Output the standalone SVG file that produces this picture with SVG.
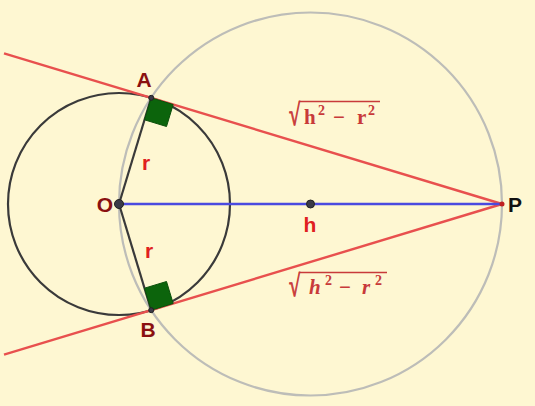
<svg xmlns="http://www.w3.org/2000/svg" width="535" height="406" viewBox="0 0 535 406">
<style>
.bg{fill:#fef7d2}
.small{fill:none;stroke:#3a3a3a;stroke-width:2.2}
.big{fill:none;stroke:#bdbdb8;stroke-width:2.2}
.tan{stroke:#e8504e;stroke-width:2.4;fill:none}
.rad{stroke:#3a3a3a;stroke-width:2.2}
.axis{stroke:#4a4ae0;stroke-width:2.4}
.dot{fill:#3a3a48;stroke:#222;stroke-width:1}
.right{fill:#0c640c;stroke:#0a4f0a;stroke-width:1}
.pt{font-family:"Liberation Sans",Arial,sans-serif;font-weight:bold;font-size:21px;fill:#8a1010;text-anchor:middle}
.lbl{font-family:"Liberation Sans",Arial,sans-serif;font-weight:bold;font-size:21px;fill:#e02020;text-anchor:middle}
.sq{font-family:"Liberation Serif","DejaVu Serif",serif;font-size:21px;fill:#c83a3a}
.root{stroke:#c83a3a;stroke-width:0.7}
.sup{font-size:14px}
.vin{stroke:#c83a3a;stroke-width:1.3}
</style>
<rect class="bg" x="0" y="0" width="535" height="406"/>
<g id="connectors">
<circle id="circle-big" class="big" cx="310.5" cy="204" r="191.5"/>
<circle id="circle-small" class="small" cx="119" cy="204" r="111"/>
<line class="tan" x1="502" y1="204" x2="4" y2="53.3"/>
<line class="tan" x1="502" y1="204" x2="4" y2="354.7"/>
<line class="axis" x1="119" y1="204" x2="502" y2="204"/>
<line class="rad" x1="119" y1="204" x2="151.2" y2="97.8"/>
<line class="rad" x1="119" y1="204" x2="151.2" y2="310.2"/>
</g>
<g id="right-angle-A"><polygon class="right" points="151.2,97.8 173.2,104.5 166.5,126.5 144.5,119.8"/></g>
<g id="right-angle-B"><polygon class="right" points="151.2,310.2 173.2,303.5 166.5,281.5 144.5,288.2"/></g>
<g id="node-O"><circle class="dot" cx="119" cy="204" r="4.5"/><text class="pt" x="105" y="212">O</text></g>
<g id="node-A"><circle class="dot" cx="151.2" cy="97.8" r="2.5"/><text class="pt" x="144" y="87">A</text></g>
<g id="node-B"><circle class="dot" cx="151.2" cy="310.2" r="2.5"/><text class="pt" x="148" y="337">B</text></g>
<g id="node-P"><circle cx="502" cy="204" r="2.5" fill="#c02020"/><text class="pt" x="515" y="212" style="fill:#111">P</text></g>
<g id="node-h"><circle class="dot" cx="310.5" cy="204" r="4"/><text class="lbl" x="310" y="232">h</text></g>
<g id="label-r1"><text class="lbl" x="146" y="170">r</text></g>
<g id="label-r2"><text class="lbl" x="149" y="258">r</text></g>
<g id="label-upper">
<text class="sq root" transform="translate(289,125) scale(0.95,1.45)">√</text>
<line class="vin" x1="299" y1="101.5" x2="380" y2="101.5"/>
<text class="sq" y="124" font-weight="bold"><tspan x="304">h</tspan><tspan class="sup" x="318" y="115">2</tspan><tspan x="333" y="124">−</tspan><tspan x="357" y="124">r</tspan><tspan class="sup" x="368" y="115">2</tspan></text>
</g>
<g id="label-lower">
<text class="sq root" transform="translate(289,296) scale(0.95,1.45)">√</text>
<line class="vin" x1="299" y1="272.5" x2="387" y2="272.5"/>
<text class="sq" y="294" font-weight="bold"><tspan x="309" font-style="italic">h</tspan><tspan class="sup" x="325" y="285">2</tspan><tspan x="339" y="294">−</tspan><tspan x="362" y="294" font-style="italic">r</tspan><tspan class="sup" x="375" y="285">2</tspan></text>
</g>
</svg>
